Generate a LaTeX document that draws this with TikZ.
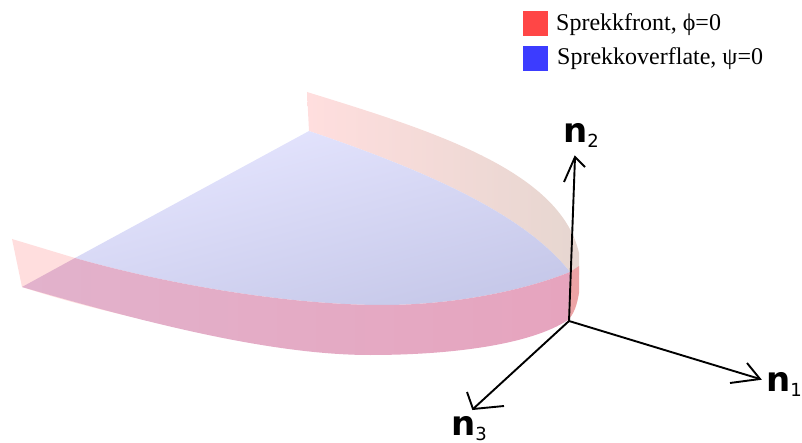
\documentclass[tikz,border=0pt]{standalone}
\usepackage{fontspec}
\setmainfont{Liberation Serif}
\newfontfamily\axisfont{DejaVu Sans}
\definecolor{wallpale}{RGB}{255,222,222}
\definecolor{wallend}{RGB}{230,214,208}
\definecolor{wallstrip}{RGB}{236,163,165}
\definecolor{flatlight}{RGB}{230,230,255}
\definecolor{flatdark}{RGB}{198,200,233}
\definecolor{bandleft}{RGB}{226,178,204}
\definecolor{bandmid}{RGB}{219,150,180}
\definecolor{bandright}{RGB}{230,164,190}
\definecolor{legendred}{RGB}{255,70,70}
\definecolor{legendblue}{RGB}{60,60,255}
\tikzset{
  axisline/.style={draw=black, line width=1.9pt, line join=miter},
  axislabel/.style={anchor=base west, inner sep=0pt, font=\axisfont},
  legendbox/.style={anchor=north west, minimum width=25pt, minimum height=25pt, inner sep=0pt},
  legendtext/.style={anchor=base west, inner sep=0pt, font=\fontsize{24}{24}\selectfont}
}
\newcommand{\axisname}[2]{{\fontsize{34}{34}\selectfont\bfseries #1}{\fontsize{18}{18}\selectfont\raisebox{-5pt}{#2}}}
\begin{document}
\begin{tikzpicture}[x=1pt, y=-1pt]
  \useasboundingbox (0,0) rectangle (802,443);
  \shade[left color=wallpale, right color=wallend]
    (307,92) .. controls (430,130) and (560,170) .. (579,253) -- (579,275) -- (570,272)
    .. controls (525,215) and (430,172) .. (309,131) -- cycle;
  \fill[wallstrip]
    (570,272) -- (579,266) -- (579,293) .. controls (577,305) and (574,314) .. (568,320) -- cycle;
  \shade[top color=flatlight, bottom color=flatdark, shading angle=15]
    (309,131) -- (75,258) .. controls (170,285) and (290,305) .. (383,305)
    .. controls (450,305) and (520,292) .. (570,272)
    .. controls (525,215) and (430,172) .. (309,131) -- cycle;
  \fill[wallpale]
    (12,239) -- (22,287) .. controls (80,306) and (150,322) .. (230,338) -- (230,320) -- (75,258) -- cycle;
  \shade[left color=bandleft, middle color=bandmid, right color=bandright]
    (22,287) -- (75,258) .. controls (170,285) and (290,305) .. (383,305)
    .. controls (450,305) and (520,292) .. (570,272) -- (568,320)
    .. controls (530,345) and (450,355) .. (370,355)
    .. controls (265,355) and (130,318) .. (22,287) -- cycle;
  \coordinate (origin) at (569,321);
  \coordinate (tipone) at (760,379);
  \coordinate (tiptwo) at (575,157);
  \coordinate (tipthree) at (473,409);
  \coordinate (barboneA) at (747,363);
  \coordinate (barboneB) at (730,383);
  \coordinate (barbtwoA) at (564,182);
  \coordinate (barbtwoB) at (585,167);
  \coordinate (barbthreeA) at (467,392);
  \coordinate (barbthreeB) at (504,406);
  \draw[axisline] (origin) -- (tipone);
  \draw[axisline] (origin) -- (tiptwo);
  \draw[axisline] (origin) -- (tipthree);
  \draw[axisline] (barboneA) -- (tipone) -- (barboneB);
  \draw[axisline] (barbtwoA) -- (tiptwo) -- (barbtwoB);
  \draw[axisline] (barbthreeA) -- (tipthree) -- (barbthreeB);
  \node[axislabel] (labelone) at (766,391) {\axisname{n}{1}};
  \node[axislabel] (labeltwo) at (563,143) {\axisname{n}{2}};
  \node[axislabel] (labelthree) at (451,435) {\axisname{n}{3}};
  \node[legendbox, fill=legendred] (boxfront) at (523,11) {};
  \node[legendbox, fill=legendblue] (boxflat) at (523,46) {};
  \node[legendtext] (textfront) at (556,31) {Sprekkfront, ϕ=0};
  \node[legendtext] (textflat) at (557,65) {Sprekkoverflate, ψ=0};
\end{tikzpicture}
\end{document}
